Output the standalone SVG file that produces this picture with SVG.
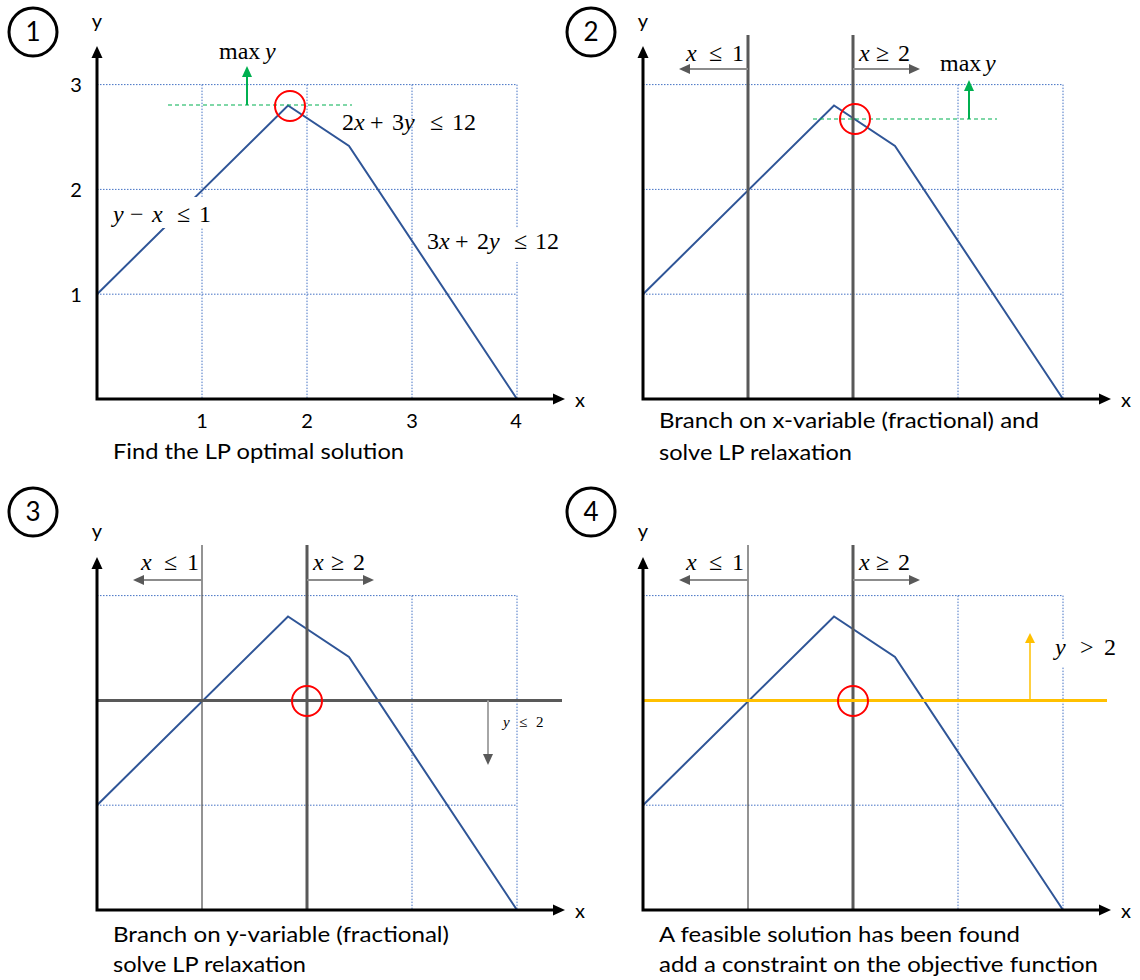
<svg xmlns="http://www.w3.org/2000/svg" width="1140" height="980" viewBox="0 0 1140 980">
<style>
.grid{fill:none;stroke:#4472C4;stroke-width:1;stroke-dasharray:1.5 1.5}
.poly{fill:none;stroke:#2F5597;stroke-width:2;stroke-linejoin:miter}
.axis{fill:none;stroke:#000;stroke-width:3;stroke-linejoin:miter}
.branch{stroke:#595959;stroke-width:3;fill:none}
.branch-thin{stroke:#595959;stroke-width:1.3;fill:none}
.barrow{stroke:#8C8C8C;stroke-width:2;fill:none}
.opt{fill:none;stroke:#FF0000;stroke-width:2}
.numc{fill:none;stroke:#000;stroke-width:3}
.num{font-family:Lato,"Liberation Sans",sans-serif;font-size:26px;text-anchor:middle;fill:#000}
.lbl{font-family:Lato,"Liberation Sans",sans-serif;font-size:20px;fill:#000}
.mid{text-anchor:middle}
.cap{font-family:Lato,"Liberation Sans",sans-serif;font-size:21px;fill:#000}
.math{font-family:"Liberation Serif",serif;font-size:24px;fill:#000}
.small{font-size:15px}
.it{font-style:italic}
.bg{fill:#fff}
.green{stroke:#00B050;stroke-width:2;fill:none}
.gdash{stroke:#00B050;stroke-width:1.2;stroke-dasharray:4 3;fill:none}
.orange{stroke:#FFC000;stroke-width:3;fill:none}
.orange-thin{stroke:#FFC000;stroke-width:1.5;fill:none}
.darrow{stroke:#A6A6A6;stroke-width:2;fill:none}
</style>
<defs>
<marker id="ah-black" markerUnits="userSpaceOnUse" markerWidth="12" markerHeight="12" viewBox="0 0 12 12" refX="0" refY="6" orient="auto-start-reverse"><path d="M0,0.5 L12,6 L0,11.5 z" fill="#000"/></marker>
<marker id="ah-gray" markerUnits="userSpaceOnUse" markerWidth="11" markerHeight="10" viewBox="0 0 11 10" refX="0" refY="5" orient="auto"><path d="M0,0 L11,5 L0,10 z" fill="#595959"/></marker>
<marker id="ah-green" markerUnits="userSpaceOnUse" markerWidth="11" markerHeight="10" viewBox="0 0 11 10" refX="0" refY="5" orient="auto"><path d="M0,0 L11,5 L0,10 z" fill="#00B050"/></marker>
<marker id="ah-orange" markerUnits="userSpaceOnUse" markerWidth="10" markerHeight="10" viewBox="0 0 10 10" refX="0" refY="5" orient="auto"><path d="M0,0 L10,5 L0,10 z" fill="#FFC000"/></marker>
</defs>
<rect width="1140" height="980" fill="#fff"/>

<!-- Panel 1 -->
<g id="panel1">
  <g id="badge1"><circle class="numc" cx="33" cy="32" r="24"/><text class="num" x="33" y="41">1</text></g>
  <text class="lbl mid" x="97" y="28">y</text>
  <text class="lbl mid" x="580" y="407">x</text>
  <g id="ticks1" class="lbl mid">
    <text x="76" y="92">3</text><text x="76" y="197">2</text><text x="76" y="302">1</text>
    <text x="202" y="428">1</text><text x="307" y="428">2</text><text x="412" y="428">3</text><text x="516" y="428">4</text>
  </g>
  <path class="grid" d="M97,84.6 H517 M97,189.4 H517 M97,294.2 H517 M202,84.6 V399 M307,84.6 V399 M412,84.6 V399 M517,84.6 V399"/>
  <polyline class="poly" points="97,294.2 288,105.5 349,146 517,399"/>
  <line class="gdash" x1="168" y1="105" x2="352" y2="105"/>
  <line class="green" x1="247" y1="105" x2="247" y2="77" marker-end="url(#ah-green)"/>
  <text class="math" x="219" y="59">max<tspan class="it" x="265">y</tspan></text>
  <rect class="bg" x="110" y="197" width="104" height="31"/>
  <rect class="bg" x="427" y="228" width="138" height="34"/>
  <text class="math" y="222"><tspan class="it" x="113">y</tspan><tspan x="130">−</tspan><tspan class="it" x="152">x</tspan><tspan x="177">≤</tspan><tspan x="199">1</tspan></text>
  <text class="math" y="130"><tspan x="342">2</tspan><tspan class="it">x</tspan><tspan x="370">+</tspan><tspan x="392">3</tspan><tspan class="it">y</tspan><tspan x="430">≤</tspan><tspan x="452">12</tspan></text>
  <text class="math" y="249"><tspan x="427">3</tspan><tspan class="it">x</tspan><tspan x="455">+</tspan><tspan x="477">2</tspan><tspan class="it">y</tspan><tspan x="514">≤</tspan><tspan x="535">12</tspan></text>
  <circle class="opt" cx="290" cy="106" r="15"/>
  <path class="axis" d="M97,58 V399 H553" marker-start="url(#ah-black)" marker-end="url(#ah-black)"/>
  <text class="cap" x="113" y="459" textLength="291" lengthAdjust="spacingAndGlyphs">Find the LP optimal solution</text>
</g>

<!-- Panel 2 -->
<g id="panel2" transform="translate(546,0)">
  <g id="badge2"><circle class="numc" cx="45" cy="32" r="24"/><text class="num" x="45" y="41">2</text></g>
  <text class="lbl mid" x="97" y="28">y</text>
  <text class="lbl mid" x="580" y="407">x</text>
  <path class="grid" d="M97,84.6 H517 M97,189.4 H517 M97,294.2 H517 M412,84.6 V399 M517,84.6 V399"/>
  <polyline class="poly" points="97,294.2 288,105.5 349,146 517,399"/>
  <line class="branch" x1="202" y1="35" x2="202" y2="399"/>
  <line class="branch" x1="307" y1="35" x2="307" y2="399"/>
  <line class="barrow" x1="202" y1="69" x2="144" y2="69" marker-end="url(#ah-gray)"/>
  <line class="barrow" x1="307" y1="69" x2="363" y2="69" marker-end="url(#ah-gray)"/>
  <text class="math" y="61"><tspan class="it" x="140">x</tspan><tspan x="163">≤</tspan><tspan x="186">1</tspan></text>
  <text class="math" y="61"><tspan class="it" x="313">x</tspan><tspan x="330">≥</tspan><tspan x="352">2</tspan></text>
  <line class="gdash" x1="267" y1="119" x2="451" y2="119"/>
  <line class="green" x1="423" y1="119" x2="423" y2="91" marker-end="url(#ah-green)"/>
  <text class="math" x="394" y="71">max<tspan class="it" x="439">y</tspan></text>
  <circle class="opt" cx="309" cy="119" r="15"/>
  <path class="axis" d="M97,58 V399 H553" marker-start="url(#ah-black)" marker-end="url(#ah-black)"/>
  <text class="cap" x="113" y="428" textLength="380" lengthAdjust="spacingAndGlyphs">Branch on x-variable (fractional) and</text>
  <text class="cap" x="113" y="460" textLength="193" lengthAdjust="spacingAndGlyphs">solve LP relaxation</text>
</g>

<!-- Panel 3 -->
<g id="panel3" transform="translate(0,511)">
  <g id="badge3"><circle class="numc" cx="33" cy="1" r="24"/><text class="num" x="33" y="10">3</text></g>
  <text class="lbl mid" x="97" y="27">y</text>
  <text class="lbl mid" x="580" y="407">x</text>
  <path class="grid" d="M97,84.6 H517 M97,294.2 H517 M412,84.6 V399 M517,84.6 V399"/>
  <polyline class="poly" points="97,294.2 288,105.5 349,146 517,399"/>
  <line class="branch-thin" x1="202" y1="34" x2="202" y2="399"/>
  <line class="branch" x1="307" y1="34" x2="307" y2="399"/>
  <line class="branch" x1="97" y1="189.4" x2="562" y2="189.4"/>
  <line class="barrow" x1="202" y1="69" x2="144" y2="69" marker-end="url(#ah-gray)"/>
  <line class="barrow" x1="307" y1="69" x2="363" y2="69" marker-end="url(#ah-gray)"/>
  <text class="math" y="59"><tspan class="it" x="141">x</tspan><tspan x="164">≤</tspan><tspan x="187">1</tspan></text>
  <text class="math" y="59"><tspan class="it" x="313">x</tspan><tspan x="331">≥</tspan><tspan x="353">2</tspan></text>
  <line class="darrow" x1="488" y1="189.4" x2="488" y2="243" marker-end="url(#ah-gray)"/>
  <text class="math small" y="216"><tspan class="it" x="503">y</tspan><tspan x="519">≤</tspan><tspan x="536">2</tspan></text>
  <circle class="opt" cx="307" cy="190" r="15"/>
  <path class="axis" d="M97,58 V399 H553" marker-start="url(#ah-black)" marker-end="url(#ah-black)"/>
  <text class="cap" x="113" y="431" textLength="336" lengthAdjust="spacingAndGlyphs">Branch on y-variable (fractional)</text>
  <text class="cap" x="113" y="461" textLength="193" lengthAdjust="spacingAndGlyphs">solve LP relaxation</text>
</g>

<!-- Panel 4 -->
<g id="panel4" transform="translate(546,511)">
  <g id="badge4"><circle class="numc" cx="45" cy="1" r="24"/><text class="num" x="45" y="10">4</text></g>
  <text class="lbl mid" x="97" y="27">y</text>
  <text class="lbl mid" x="580" y="407">x</text>
  <path class="grid" d="M97,84.6 H517 M97,294.2 H517 M412,84.6 V399 M517,84.6 V399"/>
  <polyline class="poly" points="97,294.2 288,105.5 349,146 517,399"/>
  <line class="branch-thin" x1="202" y1="34" x2="202" y2="399"/>
  <line class="branch" x1="307" y1="34" x2="307" y2="399"/>
  <line class="orange" x1="97" y1="189.4" x2="561" y2="189.4"/>
  <line class="orange-thin" x1="484" y1="189.4" x2="484" y2="132" marker-end="url(#ah-orange)"/>
  <rect class="bg" x="506" y="128" width="66" height="28"/>
  <text class="math" y="144"><tspan class="it" x="509">y</tspan><tspan x="534">&gt;</tspan><tspan x="558">2</tspan></text>
  <line class="barrow" x1="202" y1="69" x2="144" y2="69" marker-end="url(#ah-gray)"/>
  <line class="barrow" x1="307" y1="69" x2="363" y2="69" marker-end="url(#ah-gray)"/>
  <text class="math" y="59"><tspan class="it" x="140">x</tspan><tspan x="163">≤</tspan><tspan x="186">1</tspan></text>
  <text class="math" y="59"><tspan class="it" x="313">x</tspan><tspan x="330">≥</tspan><tspan x="352">2</tspan></text>
  <circle class="opt" cx="307" cy="190" r="15"/>
  <path class="axis" d="M97,58 V399 H553" marker-start="url(#ah-black)" marker-end="url(#ah-black)"/>
  <text class="cap" x="113" y="431" textLength="361" lengthAdjust="spacingAndGlyphs">A feasible solution has been found</text>
  <text class="cap" x="113" y="461" textLength="439" lengthAdjust="spacingAndGlyphs">add a constraint on the objective function</text>
</g>
</svg>
